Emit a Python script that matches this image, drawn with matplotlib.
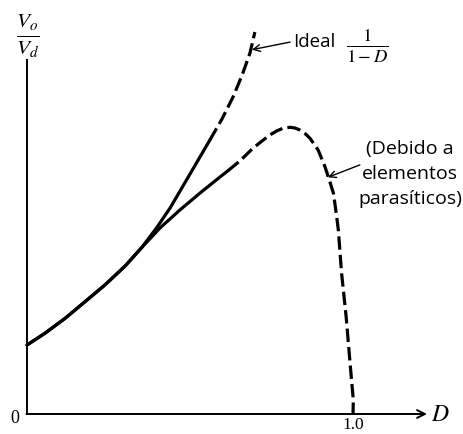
import matplotlib
matplotlib.use('Agg')
import matplotlib.pyplot as plt

plt.rcParams['mathtext.fontset'] = 'stix'

# Duty ratio D and gain Vo/Vd (curves are a sketch, not to scale)
d_shared = [0.0, 0.055, 0.117, 0.178, 0.239, 0.301, 0.352]
v_shared = [1.00, 1.17, 1.387, 1.628, 1.870, 2.145, 2.413]

d_ideal = d_shared + [0.396, 0.439, 0.500, 0.561, 0.598, 0.632, 0.660, 0.684, 0.699]
v_ideal = v_shared + [2.688, 2.986, 3.478, 3.971, 4.275, 4.594, 4.913, 5.232, 5.536]

d_real = d_shared + [0.408, 0.469, 0.531, 0.592, 0.617, 0.653, 0.693, 0.721, 0.745,
                     0.765, 0.785, 0.807, 0.822, 0.837, 0.853, 0.868, 0.880, 0.893,
                     0.914, 0.929, 0.940, 0.950, 0.955, 0.965, 0.979, 0.991, 1.001, 1.0]
v_real = v_shared + [2.696, 2.957, 3.203, 3.435, 3.528, 3.667, 3.851, 3.957, 4.043,
                     4.100, 4.141, 4.155, 4.145, 4.116, 4.065, 3.996, 3.916, 3.826,
                     3.584, 3.367, 3.199, 2.859, 2.667, 2.039, 1.410, 0.735, 0.203, 0.0]
split_ideal = 0.561   # solid below, dashed above
split_real = 0.617

label_ideal = 'Ideal'
label_real = '(Debido a\nelementos\nparasíticos)'

fig = plt.figure(figsize=(4.63, 4.34), dpi=100)
ax = fig.add_axes([0, 0, 1, 1])
ax.set_xlim(-27 / 326, 436 / 326)
ax.set_ylim(-20 / 69, 414 / 69)
ax.axis('off')


def draw_curve(d, v, split):
    k = max(i for i, x in enumerate(d) if x <= split)
    ax.plot(d[:k + 1], v[:k + 1], color='black', lw=2.3,
            solid_capstyle='round', solid_joinstyle='round')
    ax.plot(d[k:], v[k:], color='black', lw=2.3, dashes=(4.2, 1.6),
            dash_joinstyle='round')


draw_curve(d_ideal, v_ideal, split_ideal)
draw_curve(d_real, v_real, split_real)

# axes
ax.plot([0, 0], [0, 5.13], color='black', lw=1.4)
ax.annotate('', xy=(1.227, 0), xytext=(-0.002, 0),
            arrowprops=dict(arrowstyle='->', lw=1.4, mutation_scale=14,
                            shrinkA=0, shrinkB=0, color='black'))
ax.text(1.267, 0.0, '$D$', fontsize=17, ha='center', va='center')
ax.text(-0.037, -0.06, '0', fontsize=13, family='Liberation Serif',
        ha='center', va='center')
ax.text(1.0, -0.16, '1.0', fontsize=12.5, family='Liberation Serif',
        ha='center', va='center')
ax.text(0.003, 5.49, r'$\frac{V_o}{V_d}$', fontsize=22, ha='center', va='center')

# annotations
ax.annotate('', xy=(0.690, 5.28), xytext=(0.807, 5.39),
            arrowprops=dict(arrowstyle='->', lw=1.0, mutation_scale=12,
                            shrinkA=0, shrinkB=0, color='black'))
ax.text(0.815, 5.39, label_ideal, fontsize=13.5, family='Open Sans',
        ha='left', va='center')
ax.text(1.043, 5.33, r'$\frac{1}{1-D}$', fontsize=19, ha='center', va='center')

ax.annotate('', xy=(0.923, 3.43), xytext=(1.021, 3.61),
            arrowprops=dict(arrowstyle='->', lw=1.0, mutation_scale=12,
                            shrinkA=0, shrinkB=0, color='black'))
ax.text(1.175, 3.478, label_real, fontsize=14, family='Open Sans',
        ha='center', va='center', multialignment='center', linespacing=1.5)

fig.savefig('out.png', dpi=100)
